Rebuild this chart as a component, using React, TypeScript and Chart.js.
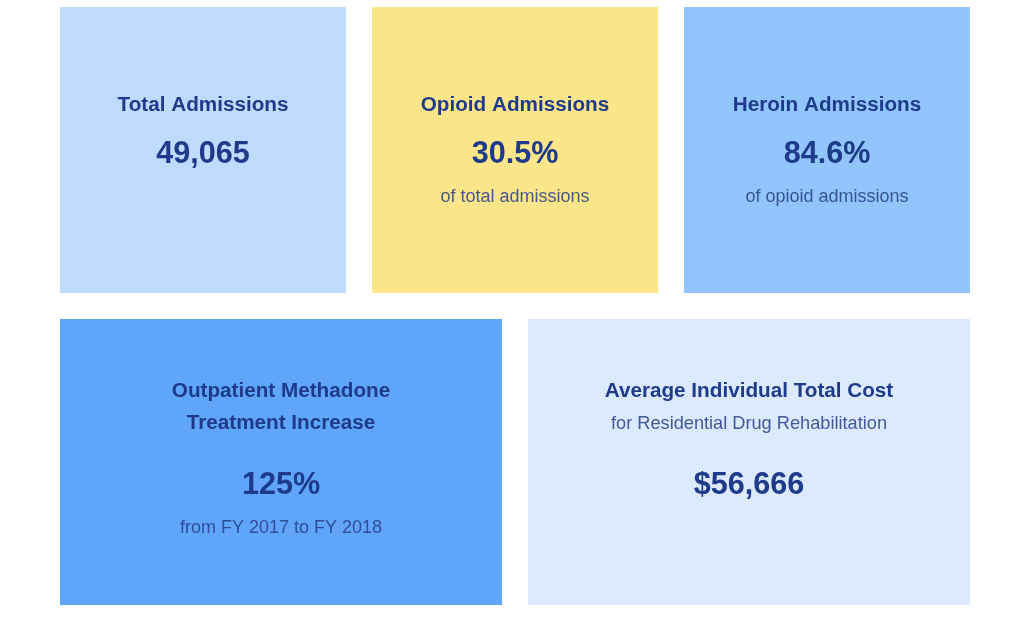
import React, { useEffect, useRef } from "react";
import { Chart, registerables } from "chart.js";

Chart.register(...registerables);

// ---- Data ----
const tileTitles: string[][] = [
  ["Total Admissions"],
  ["Opioid Admissions"],
  ["Heroin Admissions"],
  ["Outpatient Methadone", "Treatment Increase"],
  ["Average Individual Total Cost"],
];
const tileValues: string[] = ["49,065", "30.5%", "84.6%", "125%", "$56,666"];
const tileSubtitles: string[] = [
  "",
  "of total admissions",
  "of opioid admissions",
  "from FY 2017 to FY 2018",
  "for Residential Drug Rehabilitation",
];
// whether subtitle sits under the title (true) or under the value (false)
const subUnderTitle: boolean[] = [false, false, false, false, true];
// grid spans on a 6-column x 2-row grid
const tileRow: number[] = [0, 0, 0, 1, 1];
const tileColStart: number[] = [0, 2, 4, 0, 3];
const tileColEnd: number[] = [2, 4, 6, 3, 6];
const tileColors: string[] = ["#bfdbfe", "#fde68a", "#93c5fd", "#60a5fa", "#dbeafe"];

const TEXT_DARK = "#1e3a8a";
const TEXT_SUB = "rgba(38,62,135,0.85)";
const FONT = "'Liberation Sans', Arial, Helvetica, sans-serif";

const tilesPlugin = {
  id: "tiles",
  afterDatasetsDraw(chart: any) {
    const ctx = chart.ctx as CanvasRenderingContext2D;
    const xs = chart.scales.x;
    const ys = chart.scales.y;
    const inset = 13;
    ctx.save();
    for (let i = 0; i < tileValues.length; i++) {
      const left = xs.getPixelForValue(tileColStart[i]) + inset;
      const right = xs.getPixelForValue(tileColEnd[i]) - inset;
      const top = ys.getPixelForValue(tileRow[i]) + inset;
      const bottom = ys.getPixelForValue(tileRow[i] + 1) - inset;
      ctx.fillStyle = tileColors[i];
      ctx.fillRect(left, top, right - left, bottom - top);
      const cx = (left + right) / 2;
      ctx.textAlign = "center";
      ctx.textBaseline = "alphabetic";
      const bottomRow = tileRow[i] === 1;
      let y = top + (bottomRow ? 78 : 104);
      ctx.fillStyle = TEXT_DARK;
      ctx.font = `bold 20.7px ${FONT}`;
      tileTitles[i].forEach((line, k) => {
        ctx.fillText(line, cx, y + k * 32);
      });
      y += (tileTitles[i].length - 1) * 32;
      if (subUnderTitle[i] && tileSubtitles[i]) {
        y += 32;
        ctx.fillStyle = TEXT_SUB;
        ctx.font = `18.2px ${FONT}`;
        ctx.fillText(tileSubtitles[i], cx, y);
      }
      y += bottomRow ? 65 : 52;
      ctx.fillStyle = TEXT_DARK;
      ctx.font = `bold 30.6px ${FONT}`;
      ctx.fillText(tileValues[i], cx, y);
      if (!subUnderTitle[i] && tileSubtitles[i]) {
        y += 39;
        ctx.fillStyle = TEXT_SUB;
        ctx.font = `18px ${FONT}`;
        ctx.fillText(tileSubtitles[i], cx, y);
      }
    }
    ctx.restore();
  },
};

export default function App() {
  const ref = useRef<HTMLCanvasElement | null>(null);
  useEffect(() => {
    if (!ref.current) return;
    const chart = new Chart(ref.current, {
      type: "scatter",
      data: {
        datasets: [
          {
            data: tileValues.map((_, i) => ({
              x: (tileColStart[i] + tileColEnd[i]) / 2,
              y: tileRow[i] + 0.5,
            })),
            pointRadius: 0,
            pointHoverRadius: 0,
          },
        ],
      },
      options: {
        animation: false,
        responsive: true,
        maintainAspectRatio: false,
        layout: { padding: { left: 47, right: 41, top: 0, bottom: 0 } },
        plugins: { legend: { display: false }, tooltip: { enabled: false } },
        events: [],
        scales: {
          x: { type: "linear", min: 0, max: 6, display: false },
          y: { type: "linear", min: 0, max: 2, reverse: true, display: false },
        },
      },
      plugins: [tilesPlugin],
    });
    return () => chart.destroy();
  }, []);
  return (
    <div
      style={{
        position: "absolute",
        left: 0,
        top: -6,
        width: 1024,
        height: 624,
        background: "#ffffff",
      }}
    >
      <canvas ref={ref} />
    </div>
  );
}
